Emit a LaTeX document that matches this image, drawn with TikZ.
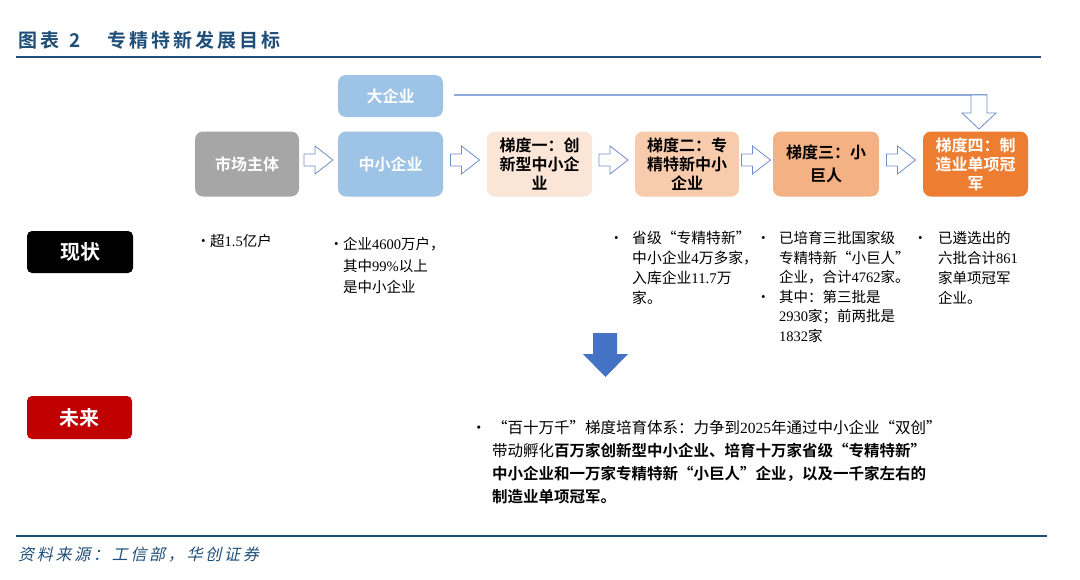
\documentclass[tikz,border=0pt]{standalone}
\usepackage{fontspec}
\setmainfont{Noto Sans CJK SC}[BoldFont={Noto Sans CJK SC Bold}]
\newfontfamily\lat{Liberation Serif}
\newfontfamily\srcfont{Noto Sans CJK SC}[FakeSlant=0.22,LetterSpace=17]
\newfontfamily\ttlfont{Noto Sans CJK SC Bold}[LetterSpace=16]
\usetikzlibrary{calc}
\definecolor{titleblue}{HTML}{1F4E79}
\definecolor{boxgray}{HTML}{A6A6A6}
\definecolor{boxblue}{HTML}{9DC3E6}
\definecolor{peachA}{HTML}{FBE5D6}
\definecolor{peachB}{HTML}{F8CBAD}
\definecolor{peachC}{HTML}{F4B183}
\definecolor{boxorange}{HTML}{ED7D31}
\definecolor{arrowline}{HTML}{6F8FCB}
\definecolor{toplinec}{HTML}{8FAADC}
\definecolor{bigblue}{HTML}{4472C4}
\definecolor{futurered}{HTML}{C00000}
\begin{document}
\begin{tikzpicture}[x=1pt,y=-1pt,
  stagebox/.style={rounded corners=8pt, minimum width=105pt, minimum height=65pt,
    inner sep=2pt, align=center, font=\fontsize{16}{19}\selectfont\bfseries},
  blockline/.style={draw=arrowline, fill=white, line width=0.8pt, line join=miter},
  rblk/.pic={\path[blockline] (-14.5,-6) -- (-3.5,-6) -- (-3.5,-14) -- (14.5,0)
      -- (-3.5,14) -- (-3.5,6) -- (-14.5,6) -- cycle;},
  tagbox/.style={rounded corners=5pt, minimum width=106pt, minimum height=42pt,
    text=white, font=\fontsize{20}{22}\selectfont\bfseries},
  bul/.style={anchor=base west, inner sep=0pt, font=\fontsize{14.5}{20}\selectfont},
  coltext/.style={anchor=north west, inner sep=0pt, align=left},
]
\useasboundingbox (0,0) rectangle (1080,579);
\fill[white] (0,0) rectangle (1080,579);

% title
\node[anchor=west, inner sep=0pt, text=titleblue, font=\fontsize{19}{22}\ttlfont] (t1) at (18,40) {图表\ \,2};
\node[anchor=west, inner sep=0pt, text=titleblue, font=\fontsize{19}{22}\ttlfont] (t2) at (107,40) {专精特新发展目标};
\draw[titleblue, line width=1.6pt] (16,57) -- (1041,57);

% boxes
\node[stagebox, fill=boxblue, text=white, minimum height=42pt] (big) at (390.5,96) {大企业};
\node[stagebox, fill=boxgray, text=white, minimum width=104pt] (mkt) at (247,164) {市场主体};
\node[stagebox, fill=boxblue, text=white] (sme) at (390.5,164) {中小企业};
\node[stagebox, fill=peachA, text=black] (g1) at (539.5,164) {梯度一：创\\新型中小企\\业};
\node[stagebox, fill=peachB, text=black, minimum width=104pt] (g2) at (687,164) {梯度二：专\\精特新中小\\企业};
\node[stagebox, fill=peachC, text=black, minimum width=106pt, font=\fontsize{16}{23}\selectfont\bfseries] (g3) at (826,164) {梯度三：小\\巨人};
\node[stagebox, fill=boxorange, text=white] (g4) at (975.5,164) {梯度四：制\\造业单项冠\\军};

% block arrows between stages
\pic at ($(mkt.east)!0.5!(sme.west)+(0,-4)$) {rblk};
\pic at ($(sme.east)!0.5!(g1.west)+(0,-4)$) {rblk};
\pic at ($(g1.east)!0.5!(g2.west)+(0,-4)$) {rblk};
\pic at ($(g2.east)!0.5!(g3.west)+(0,-4)$) {rblk};
\pic at ($(g3.east)!0.5!(g4.west)+(0,-4)$) {rblk};

% line from big enterprise down into stage four
\coordinate (lineend) at (987,95);
\draw[toplinec, line width=1.3pt] ($(big.east)+(11,-1)$) -- (lineend);
\path[blockline] (971,95) -- (lineend) -- (987,113) -- (996,113) -- (979,129)
  -- (962,113) -- (971,113) -- cycle;

% status tags
\node[tagbox, fill=black] (now) at (80,252) {现状};
\node[tagbox, fill=futurered, minimum width=105pt, minimum height=43pt] (fut) at (79.5,417.5) {未来};

% status column texts
\node[bul] (b1) at (196,246.5) {•};
\node[coltext, font=\fontsize{14.5}{21.5}\selectfont] (c1) at (210,234) {超{\lat 1.5}亿户};

\node[bul] (b2) at (329,249.5) {•};
\node[coltext, font=\fontsize{14.5}{21.5}\selectfont] (c2) at (343,237) {企业{\lat 4600}万户，\\其中{\lat 99\%}以上\\是中小企业};

\node[bul] (b3) at (609,243.5) {•};
\node[coltext, font=\fontsize{14.8}{20}\selectfont] (c3) at (632,231) {省级“专精特新”\\中小企业{\lat 4}万多家，\\入库企业{\lat 11.7}万\\家。};

\node[bul] (b4) at (756,243.5) {•};
\node[bul] (b4b) at (756,302.9) {•};
\node[coltext, font=\fontsize{14.5}{19.6}\selectfont] (c4) at (779,231) {已培育三批国家级\\专精特新“小巨人”\\企业，合计{\lat 4762}家。\\其中：第三批是\\{\lat 2930}家；前两批是\\{\lat 1832}家};

\node[bul] (b5) at (913,243.5) {•};
\node[coltext, font=\fontsize{14.5}{20}\selectfont] (c5) at (938,231) {已遴选出的\\六批合计{\lat 861}\\家单项冠军\\企业。};

% big down arrow
\fill[bigblue] (593,333) -- (617,333) -- (617,354) -- (628,354) -- (605.5,377)
  -- (583,354) -- (593,354) -- cycle;

% future text
\node[bul, font=\fontsize{15.5}{23}\selectfont] (b6) at (471,433.5) {•};
\node[coltext, font=\fontsize{15.5}{23}\selectfont] (c6) at (492,420.5) {“百十万千”梯度培育体系：力争到{\lat 2025}年通过中小企业“双创”\\带动孵化\textbf{百万家创新型中小企业、培育十万家省级“专精特新”}\\\textbf{中小企业和一万家专精特新“小巨人”企业，以及一千家左右的}\\\textbf{制造业单项冠军。}};

% footer
\draw[titleblue, line width=1.6pt] (16,536) -- (1047,536);
\node[anchor=west, inner sep=0pt, text=titleblue, font=\fontsize{16}{18}\srcfont] (src) at (18,555) {资料来源：工信部，华创证券};
\end{tikzpicture}
\end{document}
